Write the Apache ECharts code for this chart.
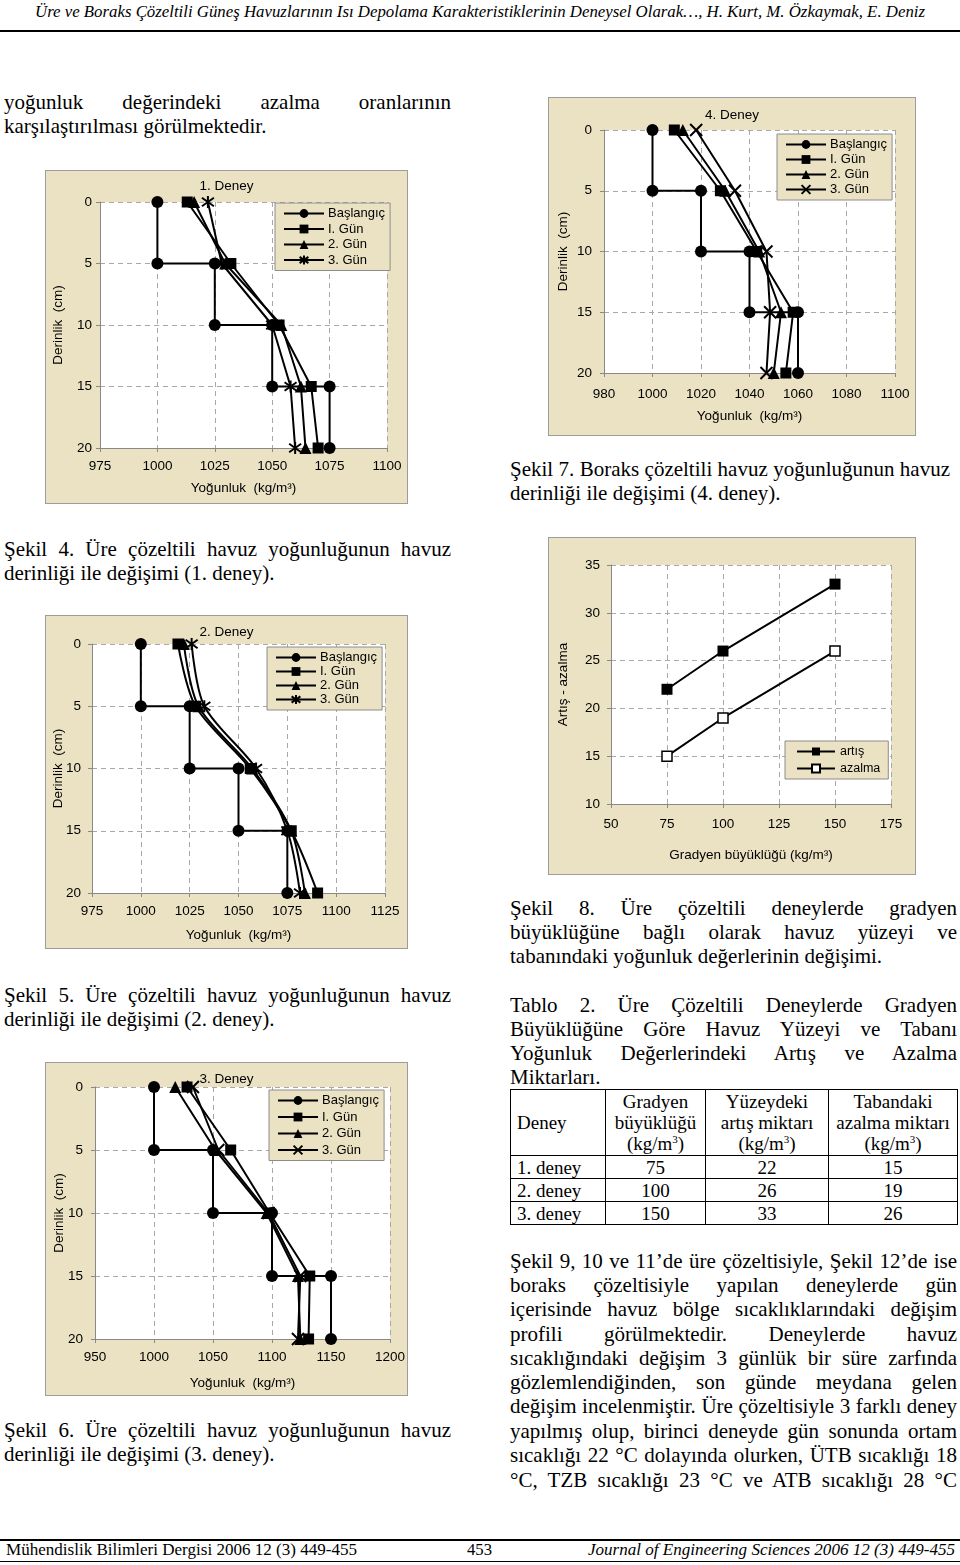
<!DOCTYPE html>
<html><head><meta charset="utf-8">
<script src="https://cdn.jsdelivr.net/npm/echarts@6/dist/echarts.min.js"></script>
<style>
html,body{margin:0;padding:0;background:#fff;}
body{width:960px;height:1565px;position:relative;overflow:hidden;font-family:"Liberation Serif","Times New Roman",serif;color:#000;}
.ln{position:absolute;font-size:21px;line-height:24px;height:24px;white-space:nowrap;}
.ln span{white-space:nowrap;}
.chart{position:absolute;border:1px solid #9c9c9c;box-sizing:border-box;background:#ebe2c4;}
.fit{position:absolute;white-space:nowrap;transform-origin:0 50%;display:inline-block;}
.rule{position:absolute;left:0;width:960px;background:#000;}
table.t{position:absolute;left:510px;top:1089px;border-collapse:collapse;font-size:19px;line-height:21px;}
table.t td{border:1px solid #000;padding:0 6px;text-align:center;vertical-align:middle;}
table.t td.l{text-align:left;}
sup{font-size:11px;line-height:0;vertical-align:7px;}
</style></head>
<body>
<div class="fit" id="hdr" style="left:35px;top:1px;font-size:17px;font-style:italic;line-height:22px;">Üre ve Boraks Çözeltili Güneş Havuzlarının Isı Depolama Karakteristiklerinin Deneysel Olarak…, H. Kurt, M. Özkaymak, E. Deniz</div>
<div class="rule" style="top:30px;height:2px;"></div>

<div class="ln j" data-w="447" style="left:4px;top:90px;"><span>yoğunluk değerindeki azalma oranlarının</span></div>
<div class="ln" style="left:4px;top:114px;"><span>karşılaştırılması görülmektedir.</span></div>
<div class="ln j" data-w="447" style="left:4px;top:537px;"><span>Şekil 4. Üre çözeltili havuz yoğunluğunun havuz</span></div>
<div class="ln" style="left:4px;top:561px;"><span>derinliği ile değişimi (1. deney).</span></div>
<div class="ln j" data-w="447" style="left:4px;top:983px;"><span>Şekil 5. Üre çözeltili havuz yoğunluğunun havuz</span></div>
<div class="ln" style="left:4px;top:1007px;"><span>derinliği ile değişimi (2. deney).</span></div>
<div class="ln j" data-w="447" style="left:4px;top:1418px;"><span>Şekil 6. Üre çözeltili havuz yoğunluğunun havuz</span></div>
<div class="ln" style="left:4px;top:1442px;"><span>derinliği ile değişimi (3. deney).</span></div>

<div class="ln j" data-w="440" style="left:510px;top:457px;"><span>Şekil 7. Boraks çözeltili havuz yoğunluğunun havuz</span></div>
<div class="ln" style="left:510px;top:481px;"><span>derinliği ile değişimi (4. deney).</span></div>
<div class="ln j" data-w="447" style="left:510px;top:896px;"><span>Şekil 8. Üre çözeltili deneylerde gradyen</span></div>
<div class="ln j" data-w="447" style="left:510px;top:920px;"><span>büyüklüğüne bağlı olarak havuz yüzeyi ve</span></div>
<div class="ln" style="left:510px;top:944px;"><span>tabanındaki yoğunluk değerlerinin değişimi.</span></div>
<div class="ln j" data-w="447" style="left:510px;top:993px;"><span>Tablo 2. Üre Çözeltili Deneylerde Gradyen</span></div>
<div class="ln j" data-w="447" style="left:510px;top:1017px;"><span>Büyüklüğüne Göre Havuz Yüzeyi ve Tabanı</span></div>
<div class="ln j" data-w="447" style="left:510px;top:1041px;"><span>Yoğunluk Değerlerindeki Artış ve Azalma</span></div>
<div class="ln" style="left:510px;top:1065px;"><span>Miktarları.</span></div>

<table class="t" id="tbl"></table>

<div class="ln j" data-w="447" style="left:510px;top:1249px;"><span>Şekil 9, 10 ve 11’de üre çözeltisiyle, Şekil 12’de ise</span></div>
<div class="ln j" data-w="447" style="left:510px;top:1273px;"><span>boraks çözeltisiyle yapılan deneylerde gün</span></div>
<div class="ln j" data-w="447" style="left:510px;top:1297px;"><span>içerisinde havuz bölge sıcaklıklarındaki değişim</span></div>
<div class="ln j" data-w="447" style="left:510px;top:1322px;"><span>profili görülmektedir. Deneylerde havuz</span></div>
<div class="ln j" data-w="447" style="left:510px;top:1346px;"><span>sıcaklığındaki değişim 3 günlük bir süre zarfında</span></div>
<div class="ln j" data-w="447" style="left:510px;top:1370px;"><span>gözlemlendiğinden, son günde meydana gelen</span></div>
<div class="ln j" data-w="447" style="left:510px;top:1394px;"><span>değişim incelenmiştir. Üre çözeltisiyle 3 farklı deney</span></div>
<div class="ln j" data-w="447" style="left:510px;top:1419px;"><span>yapılmış olup, birinci deneyde gün sonunda ortam</span></div>
<div class="ln j" data-w="447" style="left:510px;top:1443px;"><span>sıcaklığı 22 °C dolayında olurken, ÜTB sıcaklığı 18</span></div>
<div class="ln j" data-w="447" style="left:510px;top:1468px;"><span>°C, TZB sıcaklığı 23 °C ve ATB sıcaklığı 28 °C</span></div>

<div class="chart" id="c1" style="left:45px;top:170px;width:363px;height:334px;"></div>
<div class="chart" id="c4" style="left:548px;top:97px;width:368px;height:339px;"></div>
<div class="chart" id="c2" style="left:45px;top:615px;width:363px;height:334px;"></div>
<div class="chart" id="c3" style="left:45px;top:1062px;width:363px;height:334px;"></div>
<div class="chart" id="c8" style="left:548px;top:537px;width:368px;height:338px;"></div>

<div class="rule" style="top:1539px;height:2px;"></div>
<div class="fit" id="f1" style="left:6px;top:1539px;font-size:17px;line-height:22px;">Mühendislik Bilimleri Dergisi  2006 12 (3) 449-455</div>
<div class="fit" id="f2" style="left:467px;top:1539px;font-size:17px;line-height:22px;">453</div>
<div class="fit" id="f3" style="left:588px;top:1539px;font-size:17px;line-height:22px;font-style:italic;">Journal of Engineering Sciences 2006  12 (3) 449-455</div>
<div class="rule" style="top:1561px;height:1px;"></div>

<script>
// ---------- data ----------
const depth = [0, 5, 10, 15, 20];
const stepDepth = [0, 5, 5, 10, 10, 15, 15, 20];
// 1. Deney
const d1Start = [1000, 1000, 1025, 1025, 1050, 1050, 1075, 1075];
const d1Gun1 = [1013, 1032, 1053, 1067, 1070];
const d1Gun2 = [1016, 1029.5, 1054, 1062.5, 1064.5];
const d1Gun3 = [1022, 1028, 1050, 1058, 1060];
// 2. Deney
const d2Start = [1000, 1000, 1025, 1025, 1050, 1050, 1075, 1075];
const d2Gun1 = [1019, 1028, 1056, 1077, 1090.5];
const d2Gun2 = [1022, 1029.5, 1057, 1077, 1084];
const d2Gun3 = [1026, 1032.5, 1059, 1075, 1081.5];
// 3. Deney
const d3Start = [1000, 1000, 1050, 1050, 1100, 1100, 1150, 1150];
const d3Gun1 = [1028, 1065, 1098, 1132, 1131];
const d3Gun2 = [1018, 1052, 1095.5, 1122, 1124];
const d3Gun3 = [1033, 1054.5, 1097, 1124, 1122];
// 4. Deney (boraks)
const d4Start = [1000, 1000, 1020, 1020, 1040, 1040, 1060, 1060];
const d4Gun1 = [1009, 1028, 1043, 1058, 1055];
const d4Gun2 = [1012.5, 1030, 1044, 1053, 1050];
const d4Gun3 = [1018, 1034, 1047, 1048.5, 1047];
// Şekil 8 / Tablo 2
const deneyNames = ['1. deney', '2. deney', '3. deney'];
const gradyen = [75, 100, 150];
const artis = [22, 26, 33];
const azalma = [15, 19, 26];
const legendNames = ['Başlangıç', 'I. Gün', '2. Gün', '3. Gün'];

// ---------- helpers ----------
const SANS = '"Liberation Sans", Arial, sans-serif';
const ASTER = 'path://M-5,-5L5,5M-5,5L5,-5M0,-7L0,7';
const XMARK = 'path://M-5,-5L5,5M-5,5L5,-5';
const pairs = (xs, ys) => xs.map((x, i) => [x, ys[i]]);

function axisBase() {
  return {
    type: 'value', nameLocation: 'middle', nameMoveOverlap: false,
    nameTextStyle: { fontSize: 13.5, color: '#000', fontFamily: SANS },
    axisLine: { show: true, onZero: false, lineStyle: { color: '#888', width: 1 } },
    axisTick: { show: true, length: 4, lineStyle: { color: '#888' } },
    axisLabel: { color: '#000', fontSize: 13.5, fontFamily: SANS, formatter: v => String(v) },
    splitLine: { show: true, lineStyle: { color: '#a8a8a8', type: [5, 4], width: 1 } }
  };
}

function profileChart(id, o) {
  const ch = echarts.init(document.getElementById(id), null, { renderer: 'canvas' });
  const base = { type: 'line', lineStyle: { color: '#000', width: 2 }, emphasis: { disabled: true } };
  const sm = o.smooth || false;
  const series = [
    Object.assign({}, base, { name: legendNames[0], data: pairs(o.start, stepDepth), symbol: 'circle', symbolSize: 12, itemStyle: { color: '#000' } }),
    Object.assign({}, base, { name: legendNames[1], data: pairs(o.g1, depth), smooth: sm, symbol: 'rect', symbolSize: 11, itemStyle: { color: '#000' } }),
    Object.assign({}, base, { name: legendNames[2], data: pairs(o.g2, depth), smooth: sm, symbol: 'triangle', symbolSize: 12, itemStyle: { color: '#000' } }),
    Object.assign({}, base, { name: legendNames[3], data: pairs(o.g3, depth), smooth: sm, symbol: o.g3sym, symbolSize: 12, itemStyle: { color: '#000', borderColor: '#000', borderWidth: 2 } })
  ];
  const xa = axisBase();
  Object.assign(xa, { min: o.xmin, max: o.xmax, interval: o.xint, name: 'Yoğunluk  (kg/m³)', nameGap: o.xNameGap });
  xa.axisLabel.margin = o.xLabelMargin;
  const ya = axisBase();
  Object.assign(ya, { inverse: true, min: 0, max: 20, interval: 5, name: 'Derinlik  (cm)', nameGap: o.yNameGap });
  ya.axisLabel.margin = o.yLabelMargin;
  ch.setOption({
    animation: false,
    backgroundColor: 'transparent',
    title: { text: o.title, left: 'center', top: o.titleTop, textStyle: { fontSize: 13.5, fontWeight: 'normal', color: '#000', fontFamily: SANS } },
    grid: Object.assign({ show: true, backgroundColor: '#fff', borderWidth: 0, containLabel: false, outerBoundsMode: 'none' }, o.grid),
    legend: {
      data: legendNames, orient: 'vertical', left: o.legend.left, top: o.legend.top,
      itemWidth: 40, itemHeight: 11, itemGap: o.legend.gap,
      padding: [4, 5, 4, 8], backgroundColor: '#ebe2c4', borderColor: '#8c8c8c', borderWidth: 1,
      textStyle: { fontSize: 13, color: '#000', fontFamily: SANS, padding: [0, 0, 0, -1] },
      selectedMode: false
    },
    xAxis: xa, yAxis: ya, series: series
  });
}

profileChart('c1', { title: '1. Deney', titleTop: 3, xmin: 975, xmax: 1100, xint: 25,
  start: d1Start, g1: d1Gun1, g2: d1Gun2, g3: d1Gun3, g3sym: ASTER,
  grid: { left: 54, top: 31, right: 20, bottom: 55 }, xNameGap: 33, yNameGap: 35, xLabelMargin: 11, yLabelMargin: 8,
  legend: { left: 229, top: 32, gap: 2.5 } });
profileChart('c4', { title: '4. Deney', titleTop: 5, xmin: 980, xmax: 1100, xint: 20,
  start: d4Start, g1: d4Gun1, g2: d4Gun2, g3: d4Gun3, g3sym: XMARK,
  grid: { left: 55, top: 32, right: 20, bottom: 62 }, xNameGap: 36, yNameGap: 34, xLabelMargin: 14, yLabelMargin: 12,
  legend: { left: 228, top: 36, gap: 2 } });
profileChart('c2', { title: '2. Deney', titleTop: 4, xmin: 975, xmax: 1125, xint: 25, smooth: 0.3,
  start: d2Start, g1: d2Gun1, g2: d2Gun2, g3: d2Gun3, g3sym: ASTER,
  grid: { left: 46, top: 28, right: 22, bottom: 55 }, xNameGap: 35, yNameGap: 27, xLabelMargin: 11, yLabelMargin: 11,
  legend: { left: 221, top: 31, gap: 1 } });
profileChart('c3', { title: '3. Deney', titleTop: 4, xmin: 950, xmax: 1200, xint: 50,
  start: d3Start, g1: d3Gun1, g2: d3Gun2, g3: d3Gun3, g3sym: XMARK,
  grid: { left: 49, top: 24, right: 17, bottom: 56 }, xNameGap: 37, yNameGap: 29, xLabelMargin: 11, yLabelMargin: 12,
  legend: { left: 223, top: 27, gap: 3.5 } });

// Şekil 8
(function () {
  const ch = echarts.init(document.getElementById('c8'), null, { renderer: 'canvas' });
  const xa = axisBase();
  Object.assign(xa, { min: 50, max: 175, interval: 25, name: 'Gradyen büyüklüğü (kg/m³)', nameGap: 44 });
  xa.axisLabel.margin = 13;
  const ya = axisBase();
  Object.assign(ya, { min: 10, max: 35, interval: 5, name: 'Artış - azalma', nameGap: 41 });
  ya.axisLabel.margin = 11;
  ch.setOption({
    animation: false, backgroundColor: 'transparent',
    grid: { show: true, backgroundColor: '#fff', borderWidth: 0, left: 62, top: 27, right: 24, bottom: 70, outerBoundsMode: 'none' },
    legend: {
      data: ['artış', 'azalma'], orient: 'vertical', left: 236, top: 203,
      itemWidth: 38, itemHeight: 10, itemGap: 4, padding: [4, 8, 4, 11],
      backgroundColor: '#ebe2c4', borderColor: '#8c8c8c', borderWidth: 1,
      textStyle: { fontSize: 12.5, color: '#000', fontFamily: SANS }, selectedMode: false
    },
    xAxis: xa, yAxis: ya,
    series: [
      { name: 'artış', type: 'line', data: pairs(gradyen, artis), symbol: 'rect', symbolSize: 11,
        lineStyle: { color: '#000', width: 2 }, itemStyle: { color: '#000' }, emphasis: { disabled: true } },
      { name: 'azalma', type: 'line', data: pairs(gradyen, azalma), symbol: 'rect', symbolSize: 10,
        lineStyle: { color: '#000', width: 2 }, itemStyle: { color: '#fff', borderColor: '#000', borderWidth: 1.5 }, emphasis: { disabled: true } }
    ]
  });
})();

// Tablo 2 (built from the same arrays)
(function () {
  const t = document.getElementById('tbl');
  const widths = [95, 100, 123, 129];
  let h = '<colgroup>' + widths.map(w => '<col style="width:' + w + 'px">').join('') + '</colgroup>';
  h += '<tr style="height:66px"><td class="l">Deney</td><td>Gradyen<br>büyüklüğü<br>(kg/m<sup>3</sup>)</td><td>Yüzeydeki<br>artış miktarı<br>(kg/m<sup>3</sup>)</td><td>Tabandaki<br>azalma miktarı<br>(kg/m<sup>3</sup>)</td></tr>';
  deneyNames.forEach((n, i) => {
    h += '<tr style="height:23px"><td class="l">' + n + '</td><td>' + gradyen[i] + '</td><td>' + artis[i] + '</td><td>' + azalma[i] + '</td></tr>';
  });
  t.innerHTML = h;
  t.style.width = '447px';
  t.style.tableLayout = 'fixed';
})();

// text fitting
function layoutText() {
  document.querySelectorAll('.j').forEach(el => {
    const s = el.firstChild;
    s.style.wordSpacing = '0px';
    const w = s.getBoundingClientRect().width;
    const n = (s.textContent.match(/ /g) || []).length;
    const target = +el.dataset.w;
    if (n) s.style.wordSpacing = ((target - w) / n) + 'px';
  });
  const fits = [['hdr', 890], ['f1', 351], ['f2', 25], ['f3', 367]];
  fits.forEach(([id, w]) => {
    const el = document.getElementById(id);
    el.style.transform = 'none';
    const r = el.getBoundingClientRect().width;
    el.style.transform = 'scaleX(' + (w / r) + ')';
  });
}
layoutText();
if (document.fonts && document.fonts.ready) document.fonts.ready.then(layoutText);
</script>
</body></html>
